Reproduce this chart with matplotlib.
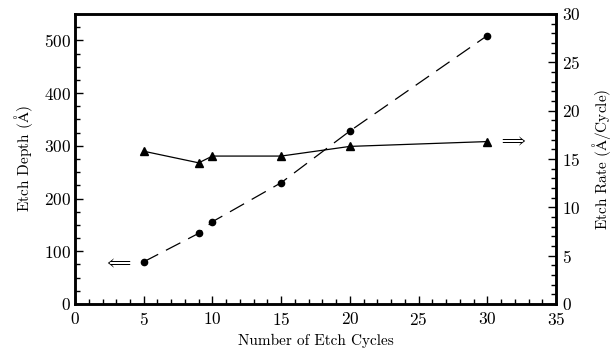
import matplotlib
matplotlib.use("Agg")
import matplotlib.pyplot as plt
from matplotlib.ticker import MultipleLocator

plt.rcParams["font.family"] = ["cmr10", "DejaVu Serif"]
plt.rcParams["mathtext.fontset"] = "cm"
plt.rcParams["axes.formatter.use_mathtext"] = True

# etch depth (left axis)
cycles_depth = [5, 9, 10, 15, 20, 30]
depth = [80, 134, 156, 230, 328, 509]

# etch rate (right axis)
cycles_rate = [5, 9, 10, 15, 20, 30]
rate = [15.8, 14.6, 15.3, 15.3, 16.3, 16.8]

fig = plt.figure(figsize=(6.16, 3.49), dpi=100)
ax = fig.add_axes([0.1218, 0.129, 0.7808, 0.831])
ax2 = ax.twinx()

ax.plot(cycles_depth, depth, color="black", lw=0.9, dashes=(13, 7),
        marker="o", ms=4.5)
ax2.plot(cycles_rate, rate, color="black", lw=0.9,
         marker="^", ms=5.5)

ax.set_xlim(0, 35)
ax.set_ylim(0, 550)
ax2.set_ylim(0, 30)

ax.xaxis.set_major_locator(MultipleLocator(5))
ax.xaxis.set_minor_locator(MultipleLocator(1))
ax.yaxis.set_major_locator(MultipleLocator(100))
ax.yaxis.set_minor_locator(MultipleLocator(25))
ax2.yaxis.set_major_locator(MultipleLocator(5))
ax2.yaxis.set_minor_locator(MultipleLocator(1))

for a in (ax, ax2):
    for s in a.spines.values():
        s.set_linewidth(1.8)

ax.tick_params(which="both", direction="in", top=False, right=False, width=1.0,
               labelsize=12.5)
ax.tick_params(which="major", length=6)
ax.tick_params(which="minor", length=3.5)
ax.tick_params(axis="y", pad=3)
ax.tick_params(axis="x", pad=5)
ax2.tick_params(which="both", direction="in", width=1.0, labelsize=12.5, pad=4)
ax2.tick_params(which="major", length=6)
ax2.tick_params(which="minor", length=3.5)

ax.set_xlabel("Number of Etch Cycles", fontsize=11, labelpad=4)
ax.set_ylabel(r"Etch Depth ($\mathrm{\AA}$)", fontsize=11, labelpad=6)
ax2.set_ylabel(r"Etch Rate ($\mathrm{\AA}$/Cycle)", fontsize=11, labelpad=7)

ax.text(3.1, 78, r"$\Longleftarrow$", fontsize=11, ha="center", va="center")
ax2.text(31.9, 16.9, r"$\Longrightarrow$", fontsize=11, ha="center", va="center")

plt.savefig("out.png", dpi=100)
